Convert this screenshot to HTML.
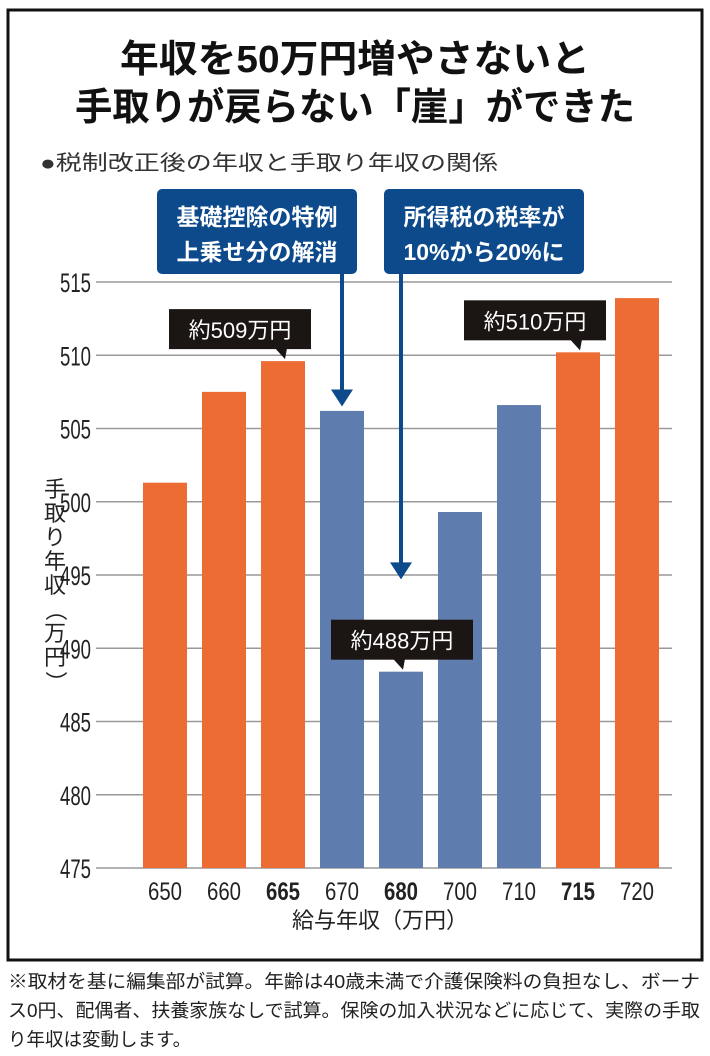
<!DOCTYPE html>
<html><head><meta charset="utf-8">
<style>
body{margin:0;width:710px;height:1056px;background:#fff;font-family:"Liberation Sans","Noto Sans CJK JP",sans-serif;overflow:hidden}
</style></head>
<body>
<svg width="710" height="1056" xmlns="http://www.w3.org/2000/svg" style="position:absolute;left:0;top:0" font-family="Liberation Sans, Noto Sans CJK JP, sans-serif">
<rect x="8" y="10" width="694" height="950" fill="none" stroke="#111" stroke-width="3"/>
<text x="120" y="72" textLength="470" lengthAdjust="spacingAndGlyphs" font-size="38" font-weight="bold" fill="#111">年収を50万円増やさないと</text>
<text x="75" y="120" textLength="560" lengthAdjust="spacingAndGlyphs" font-size="38" font-weight="bold" fill="#111">手取りが戻らない「崖」ができた</text>
<text x="40" y="170" textLength="458" lengthAdjust="spacingAndGlyphs" font-size="21" fill="#333">●税制改正後の年収と手取り年収の関係</text>
<g id="grid"></g>
<g id="bars"></g>
<g id="xl"></g>
<text x="380" y="928" text-anchor="middle" font-size="22" fill="#222">給与年収（万円）</text>
<g font-size="22" fill="#222" text-anchor="middle">
<text x="55" y="497">手</text><text x="55" y="521">取</text><text x="55" y="545">り</text><text x="55" y="569">年</text><text x="55" y="593">収</text>
<text x="55" y="617" transform="rotate(90 55 610)">（</text><text x="55" y="641">万</text><text x="55" y="665">円</text>
<text x="55" y="689" transform="rotate(90 55 682)">）</text>
</g>
<g id="ann"></g>
<text font-size="18.5" fill="#222"><tspan x="8" y="988" textLength="692" lengthAdjust="spacingAndGlyphs">※取材を基に編集部が試算。年齢は40歳未満で介護保険料の負担なし、ボーナ</tspan><tspan x="8" y="1017" textLength="692" lengthAdjust="spacingAndGlyphs">ス0円、配偶者、扶養家族なしで試算。保険の加入状況などに応じて、実際の手取</tspan><tspan x="8" y="1046">り年収は変動します。</tspan></text>
</svg>
<script>
const categories=["650","660","665","670","680","700","710","715","720"];
const values=[501.3,507.5,509.6,506.2,488.4,499.3,506.6,510.2,513.9];
const colorGroup=["o","o","o","b","b","b","b","o","o"];
const boldCats=["665","680","715"];
const yTicks=[475,480,485,490,495,500,505,510,515];
const NS="http://www.w3.org/2000/svg";
const y0=868,yTop=282,vmin=475,vmax=515;
function yS(v){return y0-(v-vmin)/(vmax-vmin)*(y0-yTop);}
function xS(i){return 165+i*59;}
function mk(tag,attrs,parent,txt){const e=document.createElementNS(NS,tag);for(const k in attrs)e.setAttribute(k,attrs[k]);if(txt!==undefined)e.textContent=txt;parent.appendChild(e);return e;}
const grid=document.getElementById('grid');
yTicks.forEach(t=>{
 const l=mk('line',{x1:96,x2:672,y1:yS(t),y2:yS(t),stroke:'#999','stroke-width':1.5},grid);
 
 
 const tx=mk('text',{x:91,y:yS(t)+10,'text-anchor':'end','font-size':27,fill:'#222',textLength:31,lengthAdjust:'spacingAndGlyphs'},grid,String(t));
 
 
});
const bars=document.getElementById('bars'),xl=document.getElementById('xl');
categories.forEach((c,i)=>{
 const r=mk('rect',{x:xS(i)-22,y:yS(values[i]),width:44,height:y0-yS(values[i]),fill:colorGroup[i]==='o'?'#ec6c34':'#5f7cae'},bars);
 
 
 const t=mk('text',{x:xS(i),y:900,'text-anchor':'middle','font-size':25,fill:'#222','font-weight':boldCats.includes(c)?'bold':'normal',textLength:34,lengthAdjust:'spacingAndGlyphs'},xl,c);
 
 
});
const ann=document.getElementById('ann');
function callout(i,label,w,bx){
 const by=yS(values[i]);
 const g=mk('g',{},ann);
 
 
 mk('rect',{x:bx,y:by-52,width:w,height:40,fill:'#1b1614'},g);
 mk('polygon',{points:`${xS(i)-8},${by-13} ${xS(i)+4},${by-13} ${xS(i)+2},${by-2}`,fill:'#1b1614'},g);
 mk('text',{x:bx+w/2,y:by-23,'text-anchor':'middle','font-size':22,fill:'#fff'},g,label);
}
callout(2,"約509万円",142,169);
callout(7,"約510万円",142,464);
callout(4,"約488万円",142,331);
function box(x,lines,name,ax,tipV){
 const g=mk('g',{},ann);
 
 
 mk('rect',{x:x,y:189,width:200,height:85,rx:5,fill:'#0d4a8c'},g);
 mk('text',{x:x+100,y:225,'text-anchor':'middle','font-size':23,'font-weight':'bold',fill:'#fff'},g,lines[0]);
 mk('text',{x:x+100,y:260,'text-anchor':'middle','font-size':23,'font-weight':'bold',fill:'#fff'},g,lines[1]);
 const tip=yS(tipV);
 mk('line',{x1:ax,x2:ax,y1:274,y2:tip-14,stroke:'#0d4a8c','stroke-width':4},g);
 mk('polygon',{points:`${ax-11},${tip-17} ${ax+11},${tip-17} ${ax},${tip}`,fill:'#0d4a8c'},g);
}
box(157,["基礎控除の特例","上乗せ分の解消"],"annotation-deduction",342,values[3]+0.3);
box(384,["所得税の税率が","10%から20%に"],"annotation-tax-rate",401,494.7);
</script>
</body></html>
